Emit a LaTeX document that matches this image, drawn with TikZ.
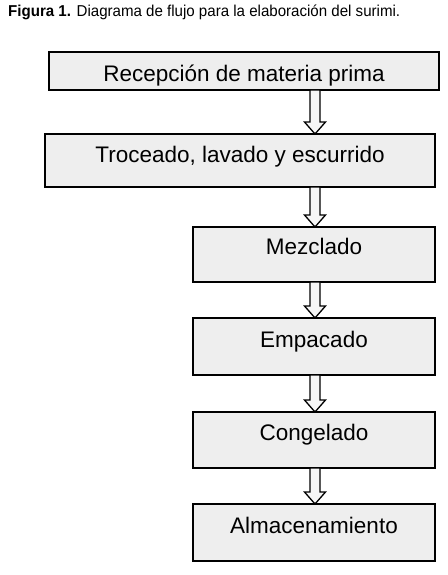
\documentclass[tikz,border=0pt]{standalone}
\usepackage{fontspec}
\setmainfont{Liberation Sans}
\usetikzlibrary{calc}
\definecolor{boxfill}{HTML}{EEEEEE}
\definecolor{arrfill}{HTML}{F6F6F6}
\tikzset{
  stepbox/.style={draw=black, line width=2pt, fill=boxfill, rectangle,
    inner xsep=0pt, inner ysep=0pt, outer sep=0pt, anchor=north,
    font=\fontsize{22.5}{26}\selectfont},
  harrow/.style={draw=black, line width=1.3pt, fill=arrfill, line join=miter}
}
\newcommand\hollowarrow[2]{%
  \path (#1.south -| ax) coordinate (s) (#2.north -| ax) coordinate (t);
  \draw[harrow] ($(s)+(-5,0)$) -- ($(t)+(-5,-12)$) -- ($(t)+(-10.5,-12)$) -- (t)
    -- ($(t)+(10.5,-12)$) -- ($(t)+(5,-12)$) -- ($(s)+(5,0)$) -- cycle;
}
\begin{document}
\begin{tikzpicture}[x=1pt,y=-1pt]
\useasboundingbox[fill=white] (0,0) rectangle (447,575);
\coordinate (ax) at (315,0);
\node[anchor=base west, inner sep=0pt] (cap) at (8,17)
  {\resizebox{392pt}{11.6pt}{\fontsize{15.5}{18}\selectfont\textbf{Figura 1.} Diagrama de flujo para la elaboración del surimi.}};
\node[stepbox, minimum width=390pt, text height=30pt, text depth=8pt] (b1) at (244,52) {Recepción de materia prima};
\node[stepbox, minimum width=390pt, text height=28pt, text depth=25pt] (b2) at (240,134) {Troceado, lavado y escurrido};
\node[stepbox, minimum width=242pt, text height=27pt, text depth=28pt] (b3) at (314,227) {Mezclado};
\node[stepbox, minimum width=242pt, text height=29pt, text depth=28pt] (b4) at (314,318) {Empacado};
\node[stepbox, minimum width=242pt, text height=28pt, text depth=28pt] (b5) at (314,412) {Congelado};
\node[stepbox, minimum width=242pt, text height=29pt, text depth=28pt] (b6) at (314,504) {Almacenamiento};
\hollowarrow{b1}{b2}
\hollowarrow{b2}{b3}
\hollowarrow{b3}{b4}
\hollowarrow{b4}{b5}
\hollowarrow{b5}{b6}
\end{tikzpicture}
\end{document}
